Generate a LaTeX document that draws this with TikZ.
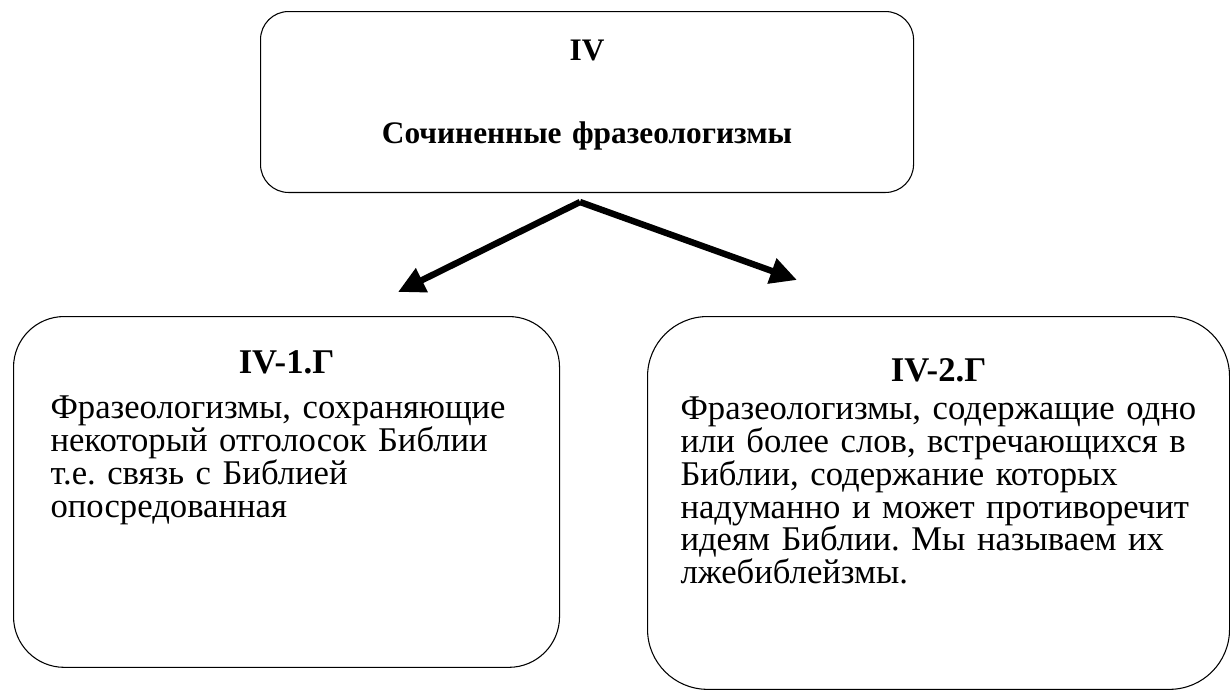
\documentclass[tikz,border=0pt]{standalone}
\usepackage{fontspec}
\setmainfont{Liberation Serif}
\usepackage{tikz}
\usetikzlibrary{arrows.meta}
\frenchspacing
\tikzset{
  arr/.style={-{Triangle[length=20pt, width=19pt]}, line width=4.8pt},
  headbox/.style={draw, line width=0.8pt, rounded corners=21pt, align=center,
                  inner sep=0pt, anchor=north west,
                  font=\fontsize{23.5}{27}\selectfont\bfseries},
  leafbox/.style={draw, line width=0.8pt, rounded corners=38pt, align=left,
                  inner ysep=0pt, anchor=north west,
                  font=\fontsize{26}{24.6}\selectfont},
}

\begin{document}
\begin{tikzpicture}[x=0.75pt, y=-0.75pt]
\useasboundingbox (0,0) rectangle (1230,696);
\node[headbox, text width=489.75pt, text height=37pt, text depth=98.7pt]
  (kind) at (260,11) {IV\\[35.25pt]Сочиненные фразеологизмы};
\node[leafbox, inner xsep=27.75pt, text width=354pt,
      text height=43pt, text depth=220.1pt] (echo) at (13,316)
  {\makebox[\hsize]{\bfseries IV-1.Г}\\[9pt]
   Фразеологизмы, сохраняющие\\
   некоторый отголосок Библии\\
   т.е. связь с Библией\\
   опосредованная};
\node[leafbox, rounded corners=45pt, inner xsep=24.75pt, text width=387pt,
      text height=49pt, text depth=230.6pt] (pseudo) at (647,316)
  {\makebox[\hsize]{\bfseries IV-2.Г}\\[3.75pt]
   Фразеологизмы, содержащие одно\\
   или более слов, встречающихся в\\
   Библии, содержание которых\\
   надуманно и может противоречит\\
   идеям Библии. Мы называем их\\
   лжебиблейзмы.};
\coordinate (fork) at (580,202);
\coordinate (lend) at (398,292);
\coordinate (rend) at (797,280);
\draw[arr] (fork) -- (lend);
\draw[arr] (fork) -- (rend);
\end{tikzpicture}
\end{document}
